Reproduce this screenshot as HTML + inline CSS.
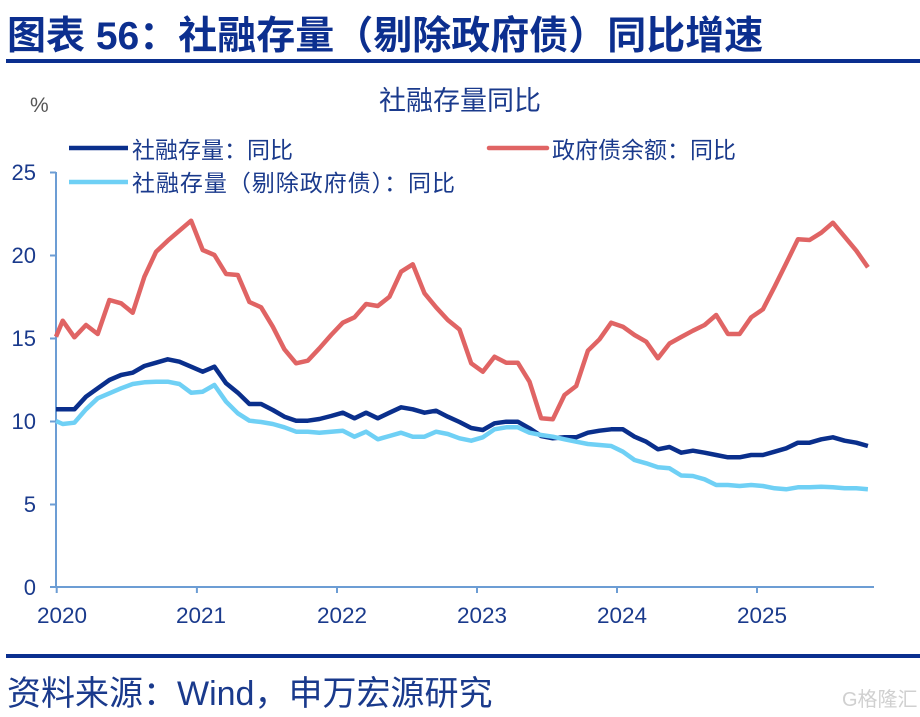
<!DOCTYPE html>
<html><head><meta charset="utf-8"><style>
html,body{margin:0;padding:0;background:#fff;}
svg{display:block;}
</style></head><body>
<svg width="920" height="717" viewBox="0 0 920 717" xmlns="http://www.w3.org/2000/svg">
<rect width="920" height="717" fill="#fff"/>
<text x="7" y="49" font-family="'Liberation Sans','Noto Sans CJK SC',sans-serif" font-size="39" font-weight="bold" fill="#0c2f8f">图表 56：社融存量（剔除政府债）同比增速</text>
<rect x="6" y="59" width="914" height="4" fill="#0a2f8f"/>
<text x="460" y="110" text-anchor="middle" font-family="'Liberation Sans','Noto Sans CJK SC',sans-serif" font-size="27" fill="#1a3a8c">社融存量同比</text>
<text x="30" y="112" font-family="'Liberation Sans',sans-serif" font-size="21" fill="#555">%</text>
<line x1="69" y1="148" x2="128" y2="148" stroke="#0a2f8c" stroke-width="4.5"/>
<text x="132" y="158" font-family="'Liberation Sans','Noto Sans CJK SC',sans-serif" font-size="23" fill="#1a3a8c">社融存量：同比</text>
<line x1="489" y1="148" x2="547" y2="148" stroke="#e06464" stroke-width="4.5" stroke-linecap="round"/>
<text x="552" y="158" font-family="'Liberation Sans','Noto Sans CJK SC',sans-serif" font-size="23" fill="#1a3a8c">政府债余额：同比</text>
<line x1="69" y1="182" x2="128" y2="182" stroke="#6fd0f5" stroke-width="4.5"/>
<text x="132" y="191" textLength="323" lengthAdjust="spacing" font-family="'Liberation Sans','Noto Sans CJK SC',sans-serif" font-size="23" fill="#1a3a8c">社融存量（剔除政府债）：同比</text>
<g stroke="#6c9dd4" stroke-width="2" fill="none">
<line x1="56" y1="172" x2="56" y2="588"/>
<line x1="50" y1="587" x2="874" y2="587"/>
<line x1="50" y1="172.5" x2="56" y2="172.5"/>
<line x1="50" y1="255.5" x2="56" y2="255.5"/>
<line x1="50" y1="338.5" x2="56" y2="338.5"/>
<line x1="50" y1="421.5" x2="56" y2="421.5"/>
<line x1="50" y1="504.5" x2="56" y2="504.5"/>
<line x1="56.7" y1="587" x2="56.7" y2="593"/>
<line x1="196.9" y1="587" x2="196.9" y2="593"/>
<line x1="337" y1="587" x2="337" y2="593"/>
<line x1="477" y1="587" x2="477" y2="593"/>
<line x1="617" y1="587" x2="617" y2="593"/>
<line x1="757" y1="587" x2="757" y2="593"/>
</g>
<g font-family="'Liberation Sans',sans-serif" font-size="22" fill="#1a3a8c" text-anchor="end">
<text x="36" y="180">25</text>
<text x="36" y="263">20</text>
<text x="36" y="346">15</text>
<text x="36" y="429">10</text>
<text x="36" y="512">5</text>
<text x="36" y="595">0</text>
</g>
<g font-family="'Liberation Sans',sans-serif" font-size="22.5" fill="#1a3a8c" text-anchor="middle">
<text x="62" y="623">2020</text>
<text x="201" y="623">2021</text>
<text x="342" y="623">2022</text>
<text x="482" y="623">2023</text>
<text x="622" y="623">2024</text>
<text x="762" y="623">2025</text>
</g>
<g fill="none" stroke-width="4.5" stroke-linejoin="round" stroke-linecap="butt">
<polyline stroke="#e06464" points="56,336.7 62.7,320.7 74.4,337.3 86,325 97.7,334 109.4,300 121.1,303.3 132.7,312.7 144.4,276.7 156.1,251.7 167.7,240.7 179.4,230.7 191.1,220.7 202.7,250 214.4,255 226.1,274 237.8,275 249.4,302 261.1,307.3 272.8,326.7 284.4,349.3 296.1,363.3 307.8,360.7 319.4,348.3 331.1,335 342.8,322.7 354.5,317.3 366.1,304 377.8,306 389.5,296.7 401.1,271.7 412.8,264.3 424.5,293.3 436.1,307.3 447.8,320 459.5,329.5 471.2,363.3 482.8,371.7 494.5,356.7 506.2,362.7 517.8,362.7 529.5,381.7 541.2,418.3 552.8,419.3 564.5,395 576.2,386 587.9,350.7 599.5,339.3 611.2,322.7 622.9,326.7 634.5,335 646.2,341.7 657.9,358.3 669.5,343.5 681.2,337 692.9,330.7 704.6,325 716.2,315 727.9,334 739.6,334 751.2,317.3 762.9,309.3 774.6,286.7 786.2,263.3 797.9,239.3 809.6,240 821.3,232.7 832.9,222.7 844.6,236.7 856.3,250.7 867.9,267.3"/>
<polyline stroke="#0a2f8c" points="56,409.3 62.7,409.3 74.4,409.3 86,396.7 97.7,388.3 109.4,380 121.1,375 132.7,372.7 144.4,366 156.1,362.7 167.7,359.3 179.4,361.7 191.1,366.7 202.7,371.7 214.4,366.7 226.1,383.3 237.8,392.7 249.4,404 261.1,404 272.8,410 284.4,416.7 296.1,420.7 307.8,420.7 319.4,419 331.1,416 342.8,412.7 354.5,418.3 366.1,412.7 377.8,418.3 389.5,412.7 401.1,407.3 412.8,409.3 424.5,412.7 436.1,410.7 447.8,416.7 459.5,422 471.2,428 482.8,430 494.5,423.3 506.2,421.7 517.8,421.7 529.5,428.3 541.2,436 552.8,438.3 564.5,437.3 576.2,437.3 587.9,432.7 599.5,430.7 611.2,429.3 622.9,429.3 634.5,436.7 646.2,441.7 657.9,449.3 669.5,447 681.2,452.7 692.9,450.7 704.6,452.7 716.2,455 727.9,457.3 739.6,457.3 751.2,455 762.9,455 774.6,451.7 786.2,448.3 797.9,442.7 809.6,442.7 821.3,439.3 832.9,437.3 844.6,440.7 856.3,442.7 867.9,446"/>
<polyline stroke="#6fd0f5" points="56,421 62.7,424 74.4,422.7 86,409.3 97.7,398.3 109.4,393.3 121.1,388.3 132.7,384 144.4,382.3 156.1,381.7 167.7,381.7 179.4,384 191.1,392.7 202.7,391.7 214.4,385 226.1,401.7 237.8,413.3 249.4,420.7 261.1,422 272.8,424 284.4,427.3 296.1,431.7 307.8,431.7 319.4,432.7 331.1,431.7 342.8,430.7 354.5,436.7 366.1,431.7 377.8,439.3 389.5,436 401.1,432.7 412.8,436.7 424.5,436.7 436.1,431.7 447.8,434 459.5,438.3 471.2,440.7 482.8,437.3 494.5,429.3 506.2,427.3 517.8,427.3 529.5,432.7 541.2,435 552.8,436.7 564.5,439.3 576.2,441.7 587.9,444 599.5,445 611.2,446 622.9,451.7 634.5,460 646.2,463.3 657.9,467.3 669.5,468.3 681.2,475.5 692.9,476 704.6,479.3 716.2,485 727.9,485 739.6,486 751.2,485 762.9,486 774.6,488.3 786.2,489.3 797.9,487.3 809.6,487.3 821.3,486.7 832.9,487.3 844.6,488.3 856.3,488.3 867.9,489.3"/>
</g>
<rect x="6" y="654" width="914" height="4" fill="#0a2f8f"/>
<text x="7" y="705" font-family="'Liberation Sans','Noto Sans CJK SC',sans-serif" font-size="34" fill="#1a3a8c">资料来源：Wind，申万宏源研究</text>
<text x="842" y="706" font-family="'Liberation Sans','Noto Sans CJK SC',sans-serif" font-size="20" fill="#d0d0d0">G格隆汇</text>
</svg>
</body></html>
